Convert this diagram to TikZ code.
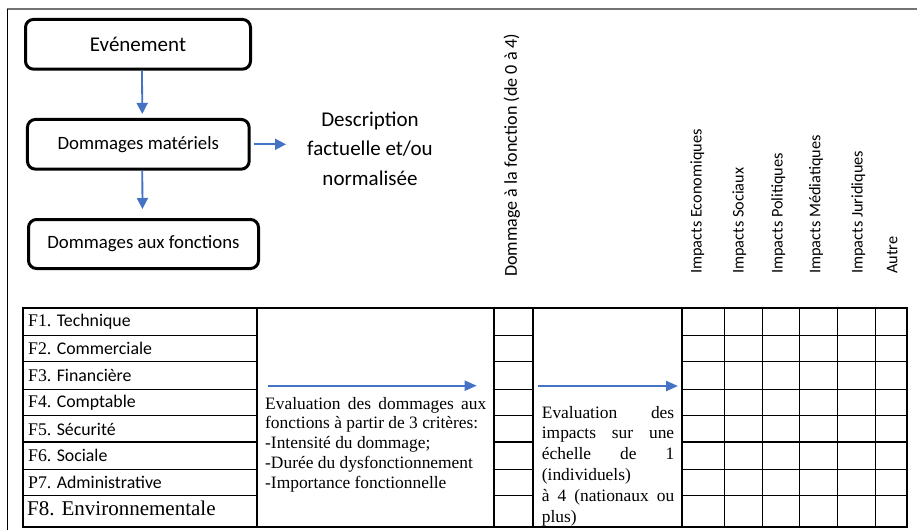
\documentclass[tikz,border=0pt]{standalone}
\usepackage{fontspec}
\setmainfont{Carlito}
\newfontfamily\tms{Liberation Serif}
\usetikzlibrary{arrows.meta, positioning}
\definecolor{flowblue}{HTML}{4472C4}
\tikzstyle{stage} = [rectangle, draw, line width=3pt, rounded corners=8pt, inner sep=0pt, font=\fontsize{18.8}{22}\selectfont]
\tikzstyle{flow} = [draw, flowblue, line width=1.8pt, -{Triangle[length=11pt,width=11pt]}]
\tikzstyle{tflow} = [draw, flowblue, line width=2.2pt, -{Triangle[length=12pt,width=10pt]}]
\tikzstyle{colhead} = [rotate=90, anchor=west, inner sep=0pt, font=\fontsize{16.3}{20}\selectfont]
\tikzstyle{fn} = [anchor=west, inner sep=0pt, font=\fontsize{17.8}{21}\selectfont]
\tikzstyle{note} = [anchor=west, inner sep=0pt, align=justify, font=\tms\fontsize{17.4}{19.8}\selectfont]
\tikzstyle{thin} = [line width=0.9pt]
\tikzstyle{heavy} = [line width=2pt]

\begin{document}
\begin{tikzpicture}[x=1pt, y=-1pt]
    \useasboundingbox (0,0) rectangle (917,530);
    % frame
    \draw [line width=1.2pt, black!55] (917,9) -- (7,9);
    \draw [line width=0.9pt] (7,9) -- (7,530);

    % event chain
    \node (evt) [stage, minimum width=225pt, minimum height=49.7pt, font=\fontsize{21}{24}\selectfont] at (138,44.3) {Evénement};
    \node (mat) [stage, minimum width=221.7pt, minimum height=49.7pt] at (138.3,144.3) {Dommages matériels};
    \node (fct) [stage, minimum width=230pt, minimum height=49pt] at (143.5,244) {Dommages aux fonctions};
    \node (desc) [inner sep=0pt, align=center, font=\fontsize{21}{29.5}\selectfont] at (370,148.5) {Description\\factuelle et/ou\\normalisée};
    \coordinate (dtip) at (286,144.3);

    \draw [flow, shorten >=4pt] ([xshift=4pt]evt.south) -- ([xshift=4pt]mat.north);
    \draw [flow, shorten >=9pt] ([xshift=4pt]mat.south) -- ([xshift=-1pt]fct.north);
    \draw [flow, shorten <=3pt] (mat.east) -- (dtip);

    % column headers
    \node (dmg) [colhead, font=\fontsize{18.1}{21}\selectfont] at (511.7,277) {Dommage à la fonction (de 0 à 4)};
    \foreach \nm/\txt/\xc in {eco/Impacts Economiques/697.3, soc/Impacts Sociaux/739.3, pol/Impacts Politiques/778.3, med/Impacts Médiatiques/816, jur/Impacts Juridiques/858.3, aut/Autre/892.3}
        \node (\nm) [colhead] at (\xc,274) {\txt};

    % table
    \foreach \y in {335,361.7,389,415.7,469,495.7} {
        \draw [thin] (22.7,\y) -- (257.3,\y);
        \draw [thin] (494,\y) -- (533.3,\y);
        \draw [thin] (681.7,\y) -- (906.7,\y);
    }
    \foreach \x in {724.3,762.3,799.3,837.3,875.3}
        \draw [thin] (\x,308.3) -- (\x,527.3);
    \foreach \x in {257.3,494,533.3,681.7}
        \draw [heavy] (\x,308.3) -- (\x,527.3);
    \draw [heavy] (22.7,442.3) -- (257.3,442.3);
    \draw [heavy] (494,442.3) -- (533.3,442.3);
    \draw [heavy] (681.7,442.3) -- (906.7,442.3);
    \draw [heavy] (22.7,308.3) rectangle (906.7,527.3);

    \foreach \code/\txt/\yc in {F1/Technique/321.7, F2/Commerciale/348.4, F3/Financière/375.4, F4/Comptable/402.4, F5/Sécurité/429, F6/Sociale/455.7, P7/Administrative/482.4}
        \node (\code) [fn] at (28,\yc) {{\tms\code.} \txt};
    \node (F8) [fn, font=\tms\fontsize{21}{24}\selectfont] at (27,508.3) {F8. Environnementale};

    \node (evalf) [note, text width=221pt] at (265,444.5) {Evaluation des dommages aux\linebreak fonctions à partir de 3 critères:\\-Intensité du dommage;\\-Durée du dysfonctionnement\\-Importance fonctionnelle};
    \node (evali) [note, text width=132.3pt, font=\tms\fontsize{17.4}{20.8}\selectfont] at (541.7,466) {Evaluation des\linebreak impacts sur une\linebreak échelle de 1\linebreak (individuels)\\à 4 (nationaux ou\linebreak plus)};

    \coordinate (fs) at (268,385.7);
    \coordinate (fe) at (476.7,385.7);
    \coordinate (is) at (538,386);
    \coordinate (ie) at (678,386);
    \draw [tflow] (fs) -- (fe);
    \draw [tflow] (is) -- (ie);
\end{tikzpicture}
\end{document}
